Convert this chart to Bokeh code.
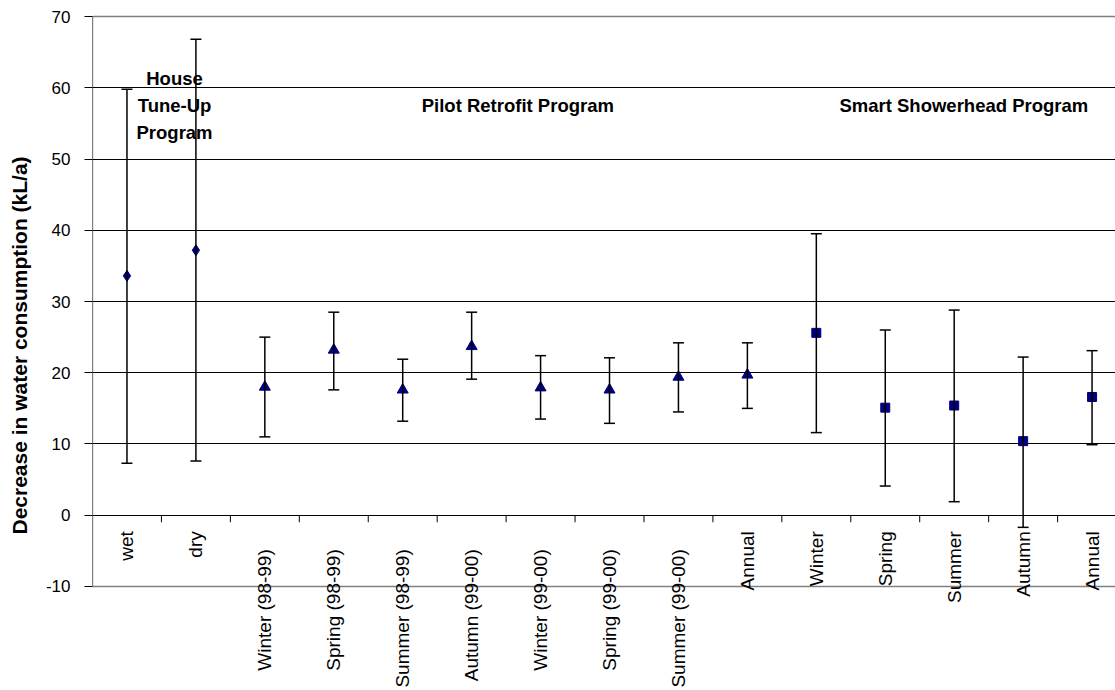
import math
from bokeh.plotting import figure
from bokeh.models import (ColumnDataSource, Whisker, TeeHead, LabelSet, Label,
                          FixedTicker, Grid, Range1d)
from bokeh.core.properties import value
from bokeh.embed import file_html
from bokeh.resources import INLINE

categories = ["wet", "dry", "Winter (98-99)", "Spring (98-99)", "Summer (98-99)",
              "Autumn (99-00)", "Winter (99-00)", "Spring (99-00)", "Summer (99-00)",
              "Annual", "Winter", "Spring", "Summer", "Autumn", "Annual"]

# House Tune-Up Program (wet, dry)
htu_values = [33.6, 37.2]
htu_upper = [59.8, 66.8]
htu_lower = [7.3, 7.6]

# Pilot Retrofit Program
prp_values = [18.0, 23.2, 17.6, 23.7, 17.9, 17.6, 19.4, 19.7]
prp_upper = [25.0, 28.5, 21.9, 28.5, 22.4, 22.1, 24.2, 24.2]
prp_lower = [11.0, 17.6, 13.2, 19.1, 13.5, 12.9, 14.5, 15.0]

# Smart Showerhead Program
ssp_values = [25.6, 15.1, 15.4, 10.4, 16.6]
ssp_upper = [39.5, 26.0, 28.8, 22.2, 23.1]
ssp_lower = [11.6, 4.1, 1.9, -1.7, 9.9]

y_ticks = [-10, 0, 10, 20, 30, 40, 50, 60, 70]
y_title = "Decrease in water consumption (kL/a)"
program_titles = ["House\nTune-Up\nProgram", "Pilot Retrofit Program", "Smart Showerhead Program"]

NAVY = "#000080"
FONT = "Liberation Sans"

n = len(categories)
xc = [i + 0.5 for i in range(n)]
n1, n2 = len(htu_values), len(prp_values)

p = figure(width=1115, height=690, x_range=Range1d(0, 14.84), y_range=Range1d(-24.6, 72.25),
           output_backend="svg", toolbar_location=None, x_axis_location=None,
           min_border_left=92, min_border_right=0, min_border_top=0, min_border_bottom=0)
p.outline_line_color = None
p.background_fill_color = "white"
p.border_fill_color = "white"

# grid
p.xgrid.visible = False
p.ygrid.ticker = FixedTicker(ticks=[t for t in y_ticks if y_ticks[0] < t < y_ticks[-1]])
p.ygrid.grid_line_color = "black"
p.ygrid.grid_line_width = 1
p.add_layout(Grid(dimension=1, ticker=FixedTicker(ticks=[y_ticks[0], y_ticks[-1]]),
                  grid_line_color="#808080", grid_line_width=1.5))

# y axis
ya = p.yaxis[0]
ya.ticker = FixedTicker(ticks=y_ticks)
ya.axis_line_color = None
ya.major_tick_line_color = "black"
ya.major_tick_in = 0
ya.major_tick_out = 8
ya.minor_tick_line_color = None
ya.major_label_overrides = {t: str(t) for t in y_ticks}
ya.major_label_text_font = FONT
ya.major_label_text_font_size = "17px"
ya.major_label_text_color = "black"
ya.major_label_standoff = 14
ya.axis_label = y_title
ya.axis_label_text_font = FONT
ya.axis_label_text_font_style = "bold"
ya.axis_label_text_font_size = "21px"
ya.axis_label_text_color = "black"
ya.axis_label_standoff = 12

# value-axis line only over the labelled span
p.segment(x0=[0], y0=[y_ticks[0]], x1=[0], y1=[y_ticks[-1]], line_color="black", line_width=1.2)

# category tick marks on the zero line
p.ray(x=list(range(1, n)), y=[0] * (n - 1), length=7, length_units="screen",
      angle=-math.pi / 2, line_color="black", line_width=1)

# error bars + markers
groups = [
    (xc[:n1], htu_values, htu_upper, htu_lower, "diamond", 11),
    (xc[n1:n1 + n2], prp_values, prp_upper, prp_lower, "triangle", 11),
    (xc[n1 + n2:], ssp_values, ssp_upper, ssp_lower, "square", 9),
]
for xs, vals, up, lo, marker, size in groups:
    src = ColumnDataSource(dict(x=xs, y=vals, upper=up, lower=lo))
    w = Whisker(source=src, base="x", upper="upper", lower="lower", dimension="height",
                line_color="black", line_width=1.5, level="glyph",
                upper_head=TeeHead(size=11, line_color="black", line_width=1.5),
                lower_head=TeeHead(size=11, line_color="black", line_width=1.5))
    p.add_layout(w)
    p.scatter(x="x", y="y", source=src, marker=marker, size=size,
              fill_color=NAVY, line_color=NAVY)

# category labels (rotated)
short = [i for i, c in enumerate(categories) if "(" not in c]
long_ = [i for i, c in enumerate(categories) if "(" in c]
for idx, off in ((short, -16), (long_, -34)):
    s = ColumnDataSource(dict(x=[xc[i] for i in idx], y=[0] * len(idx),
                              text=[categories[i] for i in idx]))
    p.add_layout(LabelSet(x="x", y="y", text="text", source=s, angle=math.pi / 2,
                          y_offset=off, text_align="right", text_baseline="middle",
                          text_font=value(FONT), text_font_size=value("19px"),
                          text_color="black"))

# program titles
for txt, xpos in zip(program_titles, [1.19, 6.17, 12.64]):
    p.add_layout(Label(x=xpos, y=57.5, text=txt, text_align="center", text_baseline="middle",
                       text_font=FONT, text_font_style="bold", text_font_size="18.5px",
                       text_color="black", text_line_height=1.3))

open("out.html", "w").write(file_html(p, INLINE))
